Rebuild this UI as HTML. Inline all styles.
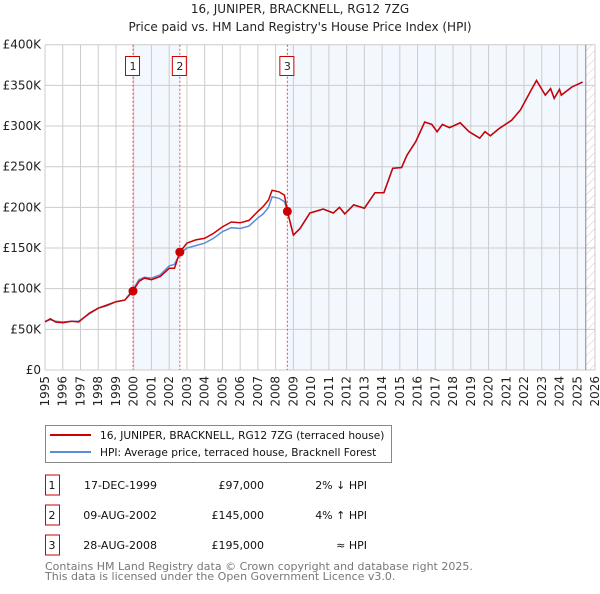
<!DOCTYPE html>
<html><head><meta charset="utf-8"><style>
body{margin:0;background:#fff;width:600px;height:590px;overflow:hidden;font-family:"DejaVu Sans","Liberation Sans",sans-serif;}
svg text{font-family:"DejaVu Sans","Liberation Sans",sans-serif;}
</style></head><body>
<svg id="chart" width="600" height="590" xmlns="http://www.w3.org/2000/svg">
<text x="300" y="13" text-anchor="middle" font-size="12" fill="#222">16, JUNIPER, BRACKNELL, RG12 7ZG</text>
<text x="300" y="31" text-anchor="middle" font-size="12" fill="#222">Price paid vs. HM Land Registry's House Price Index (HPI)</text>
<g id="plot"></g>
<rect x="45.5" y="425.5" width="346" height="37" fill="#fff" stroke="#888"/>
<line x1="50" y1="435" x2="91" y2="435" stroke="#cc0000" stroke-width="2"/>
<text x="100" y="439" font-size="10.6" fill="#111">16, JUNIPER, BRACKNELL, RG12 7ZG (terraced house)</text>
<line x1="50" y1="452" x2="91" y2="452" stroke="#5b8dd6" stroke-width="2"/>
<text x="100" y="456" font-size="10.6" fill="#111">HPI: Average price, terraced house, Bracknell Forest</text>
<g id="table"></g>
<text x="45" y="570" font-size="11" fill="#777">Contains HM Land Registry data © Crown copyright and database right 2025.</text>
<text x="45" y="580" font-size="11" fill="#777">This data is licensed under the Open Government Licence v3.0.</text>
</svg>
<script>
const years=[1995,1995.3,1995.6,1996,1996.5,1996.9,1997.5,1998,1998.5,1999,1999.5,1999.96,2000.3,2000.6,2001,2001.5,2002,2002.3,2002.6,2003,2003.5,2004,2004.5,2005,2005.5,2006,2006.5,2007,2007.3,2007.6,2007.8,2008.2,2008.5,2008.66,2009.0,2009.37,2009.93,2010.68,2011.25,2011.6,2011.9,2012.4,2013.0,2013.6,2014.1,2014.6,2015.1,2015.4,2015.9,2016.4,2016.8,2017.1,2017.4,2017.8,2018.4,2018.9,2019.5,2019.8,2020.1,2020.6,2021.3,2021.8,2022.4,2022.7,2023.2,2023.5,2023.7,2024.0,2024.1,2024.7,2025.3];
const priceSeries=[59,63,59,58,60,59,70,76,80,84,86,97,109,113,111,115,125,125,145,156,160,162,168,176,182,181,184,195,201,209,221,219,215,195,166,174,193,198,193,200,192,203,199,218,218,248,249,264,281,305,302,293,302,298,304,293,285,293,288,297,307,320,344,356,338,346,334,345,338,348,354];
const hpiSeries=[60,62,60,59,60,60,69,76,79,84,86,99,111,114,113,117,128,130,143,150,153,156,162,170,175,174,177,187,192,200,213,211,207,195,166,174,193,198,193,200,192,203,199,218,218,248,249,264,281,305,302,293,302,298,304,293,285,293,288,297,307,320,344,356,338,346,334,345,338,348,354];
const yTicks=[0,50,100,150,200,250,300,350,400];
const yTickLabels=["£0","£50K","£100K","£150K","£200K","£250K","£300K","£350K","£400K"];
const xTicks=[1995,1996,1997,1998,1999,2000,2001,2002,2003,2004,2005,2006,2007,2008,2009,2010,2011,2012,2013,2014,2015,2016,2017,2018,2019,2020,2021,2022,2023,2024,2025,2026];
const saleYears=[1999.96,2002.6,2008.66];
const salePrices=[97,145,195];
const saleLabels=["1","2","3"];
const saleDates=["17-DEC-1999","09-AUG-2002","28-AUG-2008"];
const salePriceText=["£97,000","£145,000","£195,000"];
const saleHpiText=["2% ↓ HPI","4% ↑ HPI","≈ HPI"];
const dataEnd=2025.48;

const L=45,R=595,T=44.7,B=370;
const xs=y=>L+(y-1995)/(2026-1995)*(R-L);
const ys=v=>B-v/400*(B-T);
const NS="http://www.w3.org/2000/svg";
const plot=document.getElementById('plot');
function mk(tag,attrs,parent){const e=document.createElementNS(NS,tag);for(const k in attrs)e.setAttribute(k,attrs[k]);(parent||plot).appendChild(e);return e;}
let b=mk('rect',{x:xs(saleYears[0]),y:T,width:xs(saleYears[1])-xs(saleYears[0]),height:B-T,fill:'#eef3fd',opacity:0.7});


b=mk('rect',{x:xs(saleYears[2]),y:T,width:xs(dataEnd)-xs(saleYears[2]),height:B-T,fill:'#eef3fd',opacity:0.7});


const defs=mk('defs',{});
const pat=mk('pattern',{id:'hatch',width:6,height:6,patternUnits:'userSpaceOnUse',patternTransform:'rotate(45)'},defs);
mk('line',{x1:0,y1:0,x2:0,y2:6,stroke:'#ccc','stroke-width':1},pat);
b=mk('rect',{x:xs(dataEnd),y:T,width:R-xs(dataEnd),height:B-T,fill:'url(#hatch)'});


yTicks.forEach((v,i)=>{
 const g=mk('line',{x1:L,x2:R,y1:ys(v),y2:ys(v),stroke:'#ccc'});
 
 
 const t=mk('text',{x:L-4,y:ys(v)+4,'text-anchor':'end','font-size':12,fill:'#222'});t.textContent=yTickLabels[i];
 
 
});
xTicks.forEach(v=>{
 const g=mk('line',{x1:xs(v),x2:xs(v),y1:T,y2:B,stroke:'#ccc'});
 
 
 const t=mk('text',{x:0,y:0,'text-anchor':'end','font-size':12,fill:'#222',transform:`translate(${xs(v)+4},${B+6}) rotate(-90)`});t.textContent=v;
 
 
});
const endLine=mk('line',{x1:xs(dataEnd),x2:xs(dataEnd),y1:T,y2:B,stroke:'#888'});


saleYears.forEach((y,i)=>{
 const l=mk('line',{x1:xs(y),x2:xs(y),y1:T,y2:B,stroke:'#e05050','stroke-dasharray':'2,2'});
 
 
 const bx=mk('rect',{x:xs(y)-7.5,y:56.5,width:14,height:19,fill:'#fff',stroke:'#cc0000'});
 
 
 const t=mk('text',{x:xs(y),y:70,'text-anchor':'middle','font-size':11,fill:'#222'});t.textContent=saleLabels[i];
 
 
});
const path=arr=>arr.map((v,i)=>(i?'L':'M')+xs(years[i]).toFixed(1)+','+ys(v).toFixed(1)).join('');
const hp=mk('path',{d:path(hpiSeries),fill:'none',stroke:'#5b8dd6','stroke-width':1.5});


const pp=mk('path',{d:path(priceSeries),fill:'none',stroke:'#cc0000','stroke-width':1.5});


saleYears.forEach((y,i)=>{
 const c=mk('circle',{cx:xs(y),cy:ys(salePrices[i]),r:4.5,fill:'#cc0000'});
 
 
});
const tb=document.getElementById('table');
saleLabels.forEach((s,i)=>{
 const cy=485+i*30;
 const r=mk('rect',{x:45.5,y:cy-10,width:14,height:20,fill:'#fff',stroke:'#cc0000'},tb);
 
 
 const cells=[[s,52,'middle'],[saleDates[i],157,'end'],[salePriceText[i],264,'end'],[saleHpiText[i],367,'end']];
 cells.forEach(([txt,x,a],j)=>{
  const t=mk('text',{x:x,y:cy+4,'text-anchor':a,'font-size':11,fill:'#111'},tb);t.textContent=txt;
  
  
 });
});
</script>
</body></html>
